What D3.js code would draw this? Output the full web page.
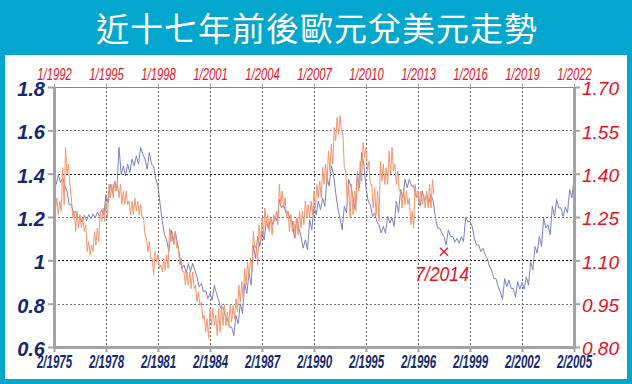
<!DOCTYPE html>
<html>
<head>
<meta charset="utf-8">
<script src="https://cdn.jsdelivr.net/npm/d3@7"></script>
<style>
  html, body { margin: 0; padding: 0; background: #03a6cc; }
  svg { display: block; }
</style>
</head>
<body>
<svg id="chart" width="632" height="384"></svg>
<script>
// ---- data ----
const title = '近十七年前後歐元兌美元走勢';
const topLabels = ['1/1992', '1/1995', '1/1998', '1/2001', '1/2004', '1/2007', '1/2010', '1/2013', '1/2016', '1/2019', '1/2022'];
const bottomLabels = ['2/1975', '2/1978', '2/1981', '2/1984', '2/1987', '2/1990', '2/1995', '2/1996', '2/1999', '2/2002', '2/2005'];
const leftTicks = [0.6, 0.8, 1, 1.2, 1.4, 1.6, 1.8];
const rightTicks = [0.80, 0.95, 1.10, 1.25, 1.40, 1.55, 1.70];

// blue: high / low of each quarter from 2/1975, bottom axis + left axis
const blueStart = 1975 + 1 / 12;
const blueHigh = [
  1.389, 1.397, 1.381, 1.319, 1.257, 1.226, 1.203, 1.208, 1.211, 1.214,
  1.223, 1.234, 1.304, 1.350, 1.366, 1.521, 1.436, 1.443, 1.467, 1.482,
  1.521, 1.467, 1.498, 1.436, 1.343, 1.180, 1.095, 1.141, 1.133, 1.017,
  0.978, 0.986, 0.986, 0.924, 0.893, 0.862, 0.847, 0.885, 0.816, 0.785,
  0.730, 0.692, 0.746, 0.800, 0.893, 0.940, 1.071, 1.110, 1.133, 1.180,
  1.195, 1.203, 1.281, 1.257, 1.226, 1.180, 1.195, 1.110, 1.095, 1.188,
  1.250, 1.273, 1.288, 1.381, 1.436, 1.312, 1.195, 1.250, 1.374, 1.288,
  1.397, 1.498, 1.335, 1.257, 1.219, 1.164, 1.157, 1.203, 1.195, 1.273,
  1.327, 1.374, 1.374, 1.343, 1.296, 1.319, 1.304, 1.304, 1.203, 1.149,
  1.110, 1.141, 1.110, 1.102, 1.110, 1.198, 1.180, 1.102, 1.071, 1.056,
  1.009, 0.955, 0.916, 0.854, 0.916, 0.909, 0.870, 0.901, 0.898, 0.924,
  0.994, 1.064, 1.110, 1.195, 1.164, 1.250, 1.281, 1.242, 1.245, 1.327,
  1.374
];
const blueLow = [
  1.350, 1.358, 1.343, 1.257, 1.219, 1.195, 1.177, 1.183, 1.192, 1.195,
  1.203, 1.208, 1.265, 1.312, 1.327, 1.397, 1.389, 1.405, 1.436, 1.443,
  1.490, 1.420, 1.443, 1.374, 1.257, 1.118, 1.040, 1.087, 1.071, 0.963,
  0.940, 0.947, 0.955, 0.878, 0.854, 0.823, 0.816, 0.847, 0.777, 0.746,
  0.692, 0.653, 0.707, 0.754, 0.847, 0.885, 1.009, 1.064, 1.095, 1.146,
  1.164, 1.180, 1.242, 1.219, 1.188, 1.102, 1.149, 1.056, 1.048, 1.141,
  1.211, 1.234, 1.250, 1.343, 1.397, 1.242, 1.141, 1.219, 1.343, 1.234,
  1.335, 1.443, 1.273, 1.203, 1.180, 1.126, 1.126, 1.172, 1.157, 1.219,
  1.288, 1.335, 1.343, 1.296, 1.250, 1.273, 1.265, 1.273, 1.149, 1.126,
  1.071, 1.110, 1.084, 1.079, 1.087, 1.177, 1.157, 1.071, 1.040, 1.025,
  0.971, 0.916, 0.878, 0.820, 0.878, 0.870, 0.831, 0.867, 0.867, 0.885,
  0.955, 1.033, 1.064, 1.149, 1.118, 1.203, 1.242, 1.203, 1.219, 1.288,
  1.335
];

// orange: high / low of each 2-month period from 1/1992, top axis + right axis
const orangeStart = 1992;
const orangeHigh = [
  1.328, 1.316, 1.305, 1.421, 1.491, 1.433, 1.316, 1.270, 1.270, 1.258,
  1.247, 1.223, 1.165, 1.153, 1.200, 1.212, 1.270, 1.281, 1.305, 1.363,
  1.363, 1.374, 1.363, 1.363, 1.340, 1.340, 1.305, 1.305, 1.316, 1.305,
  1.293, 1.247, 1.177, 1.165, 1.107, 1.130, 1.119, 1.084, 1.107, 1.119,
  1.212, 1.200, 1.200, 1.153, 1.107, 1.060, 1.060, 1.060, 1.060, 1.014,
  0.991, 0.956, 0.909, 0.898, 0.933, 0.933, 0.909, 0.933, 0.944, 0.944,
  0.921, 0.944, 0.944, 0.967, 1.014, 1.026, 1.072, 1.095, 1.107, 1.200,
  1.153, 1.223, 1.247, 1.281, 1.258, 1.247, 1.258, 1.270, 1.363, 1.340,
  1.316, 1.270, 1.258, 1.235, 1.247, 1.270, 1.270, 1.305, 1.293, 1.305,
  1.340, 1.363, 1.374, 1.421, 1.433, 1.479, 1.502, 1.560, 1.595, 1.601,
  1.537, 1.409, 1.363, 1.363, 1.340, 1.409, 1.444, 1.508, 1.491, 1.444,
  1.363, 1.351, 1.340, 1.444, 1.433, 1.421, 1.479, 1.491, 1.433, 1.409,
  1.340, 1.351, 1.340, 1.316, 1.270, 1.363, 1.340, 1.340, 1.328, 1.340,
  1.363, 1.380
];
const orangeLow = [
  1.270, 1.258, 1.270, 1.293, 1.398, 1.363, 1.247, 1.200, 1.212, 1.212,
  1.200, 1.130, 1.119, 1.130, 1.153, 1.165, 1.235, 1.235, 1.247, 1.316,
  1.316, 1.340, 1.316, 1.293, 1.293, 1.293, 1.258, 1.258, 1.270, 1.258,
  1.247, 1.188, 1.130, 1.107, 1.049, 1.095, 1.072, 1.060, 1.066, 1.072,
  1.165, 1.153, 1.142, 1.084, 1.060, 1.014, 1.014, 1.002, 1.002, 0.956,
  0.944, 0.898, 0.851, 0.828, 0.874, 0.874, 0.840, 0.851, 0.874, 0.874,
  0.874, 0.886, 0.898, 0.921, 0.956, 0.967, 1.014, 1.037, 1.060, 1.142,
  1.084, 1.165, 1.188, 1.223, 1.200, 1.188, 1.235, 1.223, 1.293, 1.281,
  1.247, 1.200, 1.200, 1.177, 1.188, 1.212, 1.223, 1.247, 1.247, 1.258,
  1.281, 1.316, 1.316, 1.363, 1.363, 1.409, 1.433, 1.514, 1.537, 1.549,
  1.421, 1.305, 1.247, 1.258, 1.270, 1.340, 1.374, 1.456, 1.409, 1.363,
  1.281, 1.258, 1.235, 1.374, 1.363, 1.363, 1.398, 1.409, 1.363, 1.340,
  1.281, 1.293, 1.293, 1.223, 1.212, 1.316, 1.293, 1.293, 1.281, 1.281,
  1.281, 1.328
];

const note = { date: 2014.5, value: 1.13, label: '7/2014' };

// ---- layout ----
const svg = d3.select('#chart');
const W = 632, H = 384;
const plot = { left: 54, right: 574, top: 87, bottom: 347 };

svg.append('rect').attr('width', W).attr('height', H).attr('fill', '#03a6cc');
svg.append('rect').attr('x', 5).attr('y', 55).attr('width', 622).attr('height', 324).attr('fill', '#ffffff');

svg.append('text')
  .attr('x', 317).attr('y', 41)
  .attr('text-anchor', 'middle')
  .attr('fill', '#ffffff')
  .style('font-family', '"Noto Sans CJK TC", "Noto Sans CJK SC", sans-serif')
  .style('font-size', '33px')
  .style('letter-spacing', '1px')
  .text(title);

// scales
const xBottom = d3.scaleLinear().domain([blueStart, blueStart + 30]).range([plot.left, plot.right]);
const xTop = d3.scaleLinear().domain([orangeStart, orangeStart + 30]).range([plot.left, plot.right]);
const yLeft = d3.scaleLinear().domain([0.6, 1.8]).range([plot.bottom, plot.top]);
const yRight = d3.scaleLinear().domain([0.8, 1.7]).range([plot.bottom, plot.top]);

const bottomTickVals = bottomLabels.map((d, i) => blueStart + i * 3);
const topTickVals = topLabels.map((d, i) => orangeStart + i * 3);

// gridlines
const grid = svg.append('g');
grid.selectAll('line.h')
  .data(leftTicks.filter(v => v > 0.6 && v < 1.8))
  .enter().append('line')
    .attr('x1', plot.left).attr('x2', plot.right)
    .attr('y1', d => Math.round(yLeft(d)) + 0.5).attr('y2', d => Math.round(yLeft(d)) + 0.5)
    .attr('stroke', d => (Math.abs(d - 1.4) < 1e-6 || Math.abs(d - 1) < 1e-6) ? '#111' : '#777')
    .attr('stroke-width', 1)
    .attr('stroke-dasharray', '2,2');
grid.selectAll('line.v')
  .data(bottomTickVals.slice(1, -1))
  .enter().append('line')
    .attr('x1', d => Math.round(xBottom(d)) + 0.5).attr('x2', d => Math.round(xBottom(d)) + 0.5)
    .attr('y1', plot.top).attr('y2', plot.bottom)
    .attr('stroke', '#666')
    .attr('stroke-width', 1)
    .attr('stroke-dasharray', '2,2');

// series: zigzag high -> low inside each period
function zigzag(start, step, highs, lows, end) {
  const pts = [];
  highs.forEach((h, i) => {
    const t = start + i * step;
    pts.push([t, h]);
    if (t + step / 2 <= end) pts.push([t + step / 2, lows[i]]);
  });
  return pts;
}
const bluePts = zigzag(blueStart, 0.25, blueHigh, blueLow, blueStart + 30);
const orangePts = zigzag(orangeStart, 1 / 6, orangeHigh, orangeLow, orangeStart + 30);

const blueLine = d3.line().x(d => xBottom(d[0])).y(d => yLeft(d[1]));
const orangeLine = d3.line().x(d => xTop(d[0])).y(d => yRight(d[1]));

svg.append('path')
  .datum(bluePts)
  .attr('d', blueLine)
  .attr('fill', 'none')
  .attr('stroke', '#7c80c4')
  .attr('stroke-width', 1);

svg.append('path')
  .datum(orangePts)
  .attr('d', orangeLine)
  .attr('fill', 'none')
  .attr('stroke', '#f5966c')
  .attr('stroke-width', 1);

// top border line
svg.append('line')
  .attr('x1', plot.left).attr('x2', plot.right)
  .attr('y1', plot.top + 0.5).attr('y2', plot.top + 0.5)
  .attr('stroke', '#d0703f').attr('stroke-width', 1);

// axes
function styleAxis(g) {
  g.select('.domain').attr('stroke', '#a3a3a3').attr('stroke-width', 3);
  g.selectAll('.tick line').attr('stroke', '#a3a3a3').attr('stroke-width', 2);
}

const leftAxis = svg.append('g')
  .attr('transform', `translate(${plot.left},0)`)
  .call(d3.axisLeft(yLeft).tickValues(leftTicks).tickSize(6).tickSizeOuter(0).tickPadding(3).tickFormat(d => String(d)));
styleAxis(leftAxis);
leftAxis.selectAll('.tick text')
  .attr('fill', '#14296f')
  .attr('dy', '0.42em')
  .style('font-family', '"Liberation Sans", Arial, sans-serif')
  .style('font-size', '20px')
  .style('font-weight', 'bold')
  .style('font-style', 'italic');

const rightAxis = svg.append('g')
  .attr('transform', `translate(${plot.right},0)`)
  .call(d3.axisRight(yRight).tickValues(rightTicks).tickSize(6).tickSizeOuter(0).tickPadding(2).tickFormat(d3.format('.2f')));
styleAxis(rightAxis);
rightAxis.selectAll('.tick text')
  .attr('fill', '#e8121c')
  .attr('dy', '0.42em')
  .style('font-family', '"Liberation Sans", Arial, sans-serif')
  .style('font-size', '19px')
  .style('font-style', 'italic');

const bottomAxis = svg.append('g')
  .attr('transform', `translate(0,${plot.bottom})`)
  .call(d3.axisBottom(xBottom).tickValues(bottomTickVals).tickSize(5).tickSizeOuter(0).tickFormat(''));
styleAxis(bottomAxis);
bottomAxis.selectAll('.tick')
  .append('text')
    .attr('transform', 'translate(0,21) scale(0.64,1)')
    .attr('text-anchor', 'middle')
    .attr('fill', '#14296f')
    .style('font-family', '"Liberation Sans", Arial, sans-serif')
    .style('font-size', '18px')
    .style('font-weight', 'bold')
    .style('font-style', 'italic')
    .text((d, i) => bottomLabels[i]);

const topAxis = svg.append('g')
  .attr('transform', `translate(0,${plot.top})`)
  .call(d3.axisTop(xTop).tickValues(topTickVals).tickSize(3).tickSizeOuter(0).tickFormat(''));
topAxis.select('.domain').remove();
topAxis.selectAll('.tick line').attr('stroke', '#a3a3a3');
topAxis.selectAll('.tick')
  .append('text')
    .attr('transform', 'translate(0,-7) scale(0.66,1)')
    .attr('text-anchor', 'middle')
    .attr('fill', '#e8121c')
    .style('font-family', '"Liberation Sans", Arial, sans-serif')
    .style('font-size', '17px')
    .style('font-style', 'italic')
    .text((d, i) => topLabels[i]);

// annotation
const nx = xTop(note.date), ny = yRight(note.value);
svg.append('path')
  .attr('d', `M${nx - 4},${ny - 4}L${nx + 4},${ny + 4}M${nx - 4},${ny + 4}L${nx + 4},${ny - 4}`)
  .attr('stroke', '#e8121c').attr('stroke-width', 1.3).attr('fill', 'none');
svg.append('text')
  .attr('transform', `translate(${nx - 2},${ny + 29}) scale(0.84,1)`)
  .attr('text-anchor', 'middle')
  .attr('fill', '#e8121c')
  .style('font-family', '"Liberation Sans", Arial, sans-serif')
  .style('font-size', '21px')
  .style('font-style', 'italic')
  .text(note.label);
</script>
</body>
</html>
